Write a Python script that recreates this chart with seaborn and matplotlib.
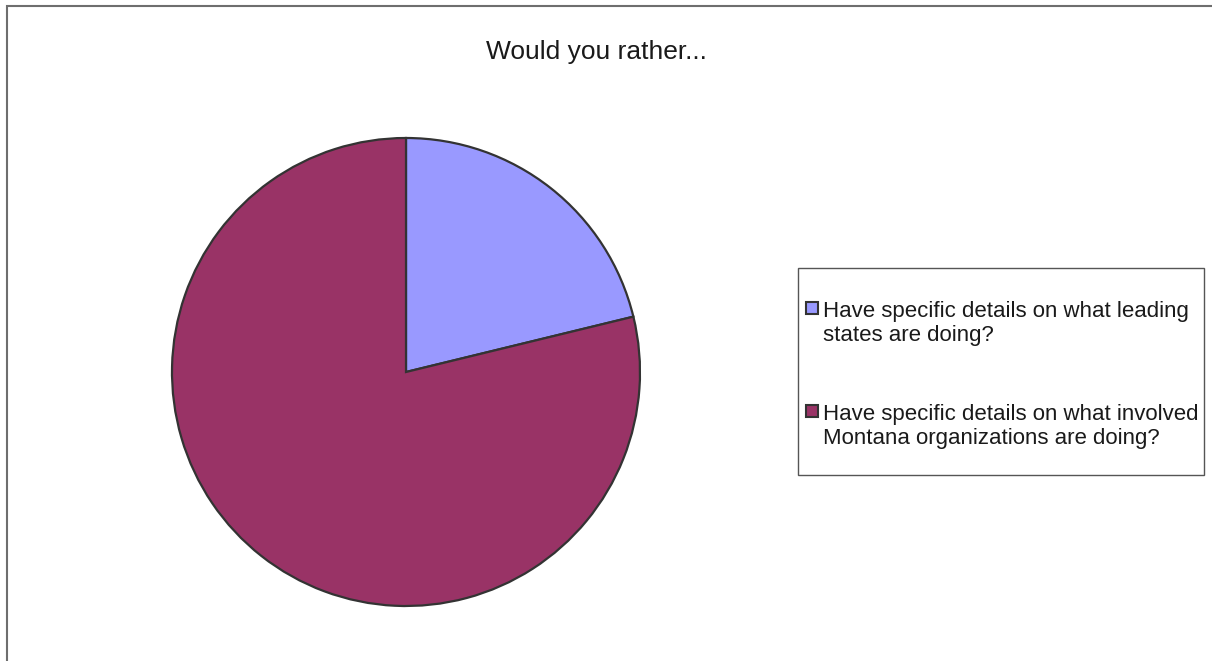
import matplotlib
matplotlib.use("Agg")
import matplotlib.pyplot as plt
import seaborn as sns
from matplotlib.patches import Rectangle
from matplotlib.legend_handler import HandlerPatch

# data
labels = ["Have specific details on what leading\nstates are doing?",
          "Have specific details on what involved\nMontana organizations are doing?"]
shares = [21.2, 78.8]
colors = ["#9999FF", "#993366"]

sns.set_theme(style="white")
plt.rcParams['font.family'] = ['Liberation Sans', 'DejaVu Sans']

W, H = 1212, 661
fig = plt.figure(figsize=(W / 100, H / 100), dpi=100)

# outer chart frame (cut off at right and bottom like the reference)
fig.patches.append(Rectangle((7 / W, -0.05), 1.1, 1 - 6 / H + 0.05, transform=fig.transFigure,
                             fill=False, edgecolor="#6e6e6e", linewidth=1.5))

# pie
cx, cy, r = 406, 372, 234
ax = fig.add_axes([(cx - r) / W, (H - cy - r) / H, 2 * r / W, 2 * r / H])
wedges, _ = ax.pie(shares, colors=colors, startangle=90, counterclock=False,
                   wedgeprops=dict(edgecolor="#333333", linewidth=1.6))
ax.set_aspect("auto")
ax.set_xlim(-1.0, 1.0)
ax.set_ylim(-1.0, 1.0)
ax.axis("off")

fig.text(596 / W, 1 - 52 / H, "Would you rather...", ha="center", va="center",
         fontsize=19, color="#1a1a1a")

# legend frame
fig.patches.append(Rectangle((798 / W, 1 - 475 / H), 406 / W, 207 / H, transform=fig.transFigure,
                             fill=False, edgecolor="#555555", linewidth=1.0))

fs = 16


def square_top(legend, orig_handle, xdescent, ydescent, width, height, fontsize):
    s = 0.55 * fontsize
    return Rectangle((-xdescent, 0.8 * fontsize), s, s)


leg = fig.legend(wedges, labels, loc="upper left", bbox_to_anchor=(806 / W, 1 - 301 / H),
                 frameon=False, fontsize=fs, labelspacing=2.6, borderpad=0, borderaxespad=0,
                 handlelength=0.55, handleheight=0.55, handletextpad=0.23,
                 handler_map={type(wedges[0]): HandlerPatch(patch_func=square_top)})
for h in leg.legend_handles:
    h.set_edgecolor("#333333")
    h.set_linewidth(1.5)
for t in leg.get_texts():
    t.set_color("#1a1a1a")

fig.savefig("out.png", dpi=100)
